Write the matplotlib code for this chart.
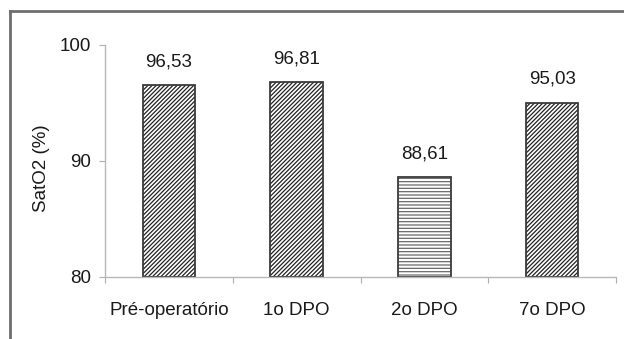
import matplotlib
matplotlib.use("Agg")
import matplotlib.pyplot as plt
from matplotlib.lines import Line2D

categories = ["Pré-operatório", "1o DPO", "2o DPO", "7o DPO"]
sat_o2 = [96.53, 96.81, 88.61, 95.03]
value_labels = ["96,53", "96,81", "88,61", "95,03"]
hatches = ["////////", "////////", "-----", "////////"]
y_ticks = [80, 90, 100]

fs = 13.5
plt.rcParams["font.family"] = ["Liberation Sans", "DejaVu Sans"]
plt.rcParams["hatch.linewidth"] = 0.9

fig = plt.figure(figsize=(6.24, 3.39), dpi=100)
fig.patch.set_facecolor("white")

# outer frame (left and top edges visible)
frame_kw = dict(color="#6e6e6e", linewidth=2.0, transform=fig.transFigure)
fig.add_artist(Line2D([10 / 624, 10 / 624], [1 - 11 / 339, 0], **frame_kw))
fig.add_artist(Line2D([10 / 624, 1], [1 - 11 / 339, 1 - 11 / 339], **frame_kw))

ax = fig.add_axes([105 / 624, 1 - 277 / 339, (616 - 105) / 624, (277 - 45) / 339])
x = range(len(categories))
for i, (v, h) in enumerate(zip(sat_o2, hatches)):
    hc = "#222222" if h.startswith("/") else "#6a6a6a"
    ax.bar(i, v - 80, bottom=80, width=0.41, color="white", edgecolor=hc,
           hatch=h, linewidth=0)
    ax.bar(i, v - 80, bottom=80, width=0.41, fill=False, edgecolor="#3a3a3a",
           linewidth=1.3)
    ax.text(i, v + 2.0, value_labels[i], ha="center", va="center",
            fontsize=fs, color="#1a1a1a")

ax.set_xlim(-0.5, len(categories) - 0.5)
ax.set_ylim(80, 100)
ax.set_yticks(y_ticks)
ax.set_yticklabels([str(t) for t in y_ticks], fontsize=fs, color="#1a1a1a")
ax.set_xticks([i + 0.5 for i in range(-1, len(categories))], minor=False)
ax.set_xticklabels([])
ax.set_xticks(list(x), minor=True)
ax.set_xticklabels(categories, minor=True, fontsize=fs, color="#1a1a1a")
ax.tick_params(axis="x", which="minor", length=0, pad=18)
ax.tick_params(axis="x", which="major", length=4, color="#b0b0b0", direction="out")
ax.tick_params(axis="y", length=4, color="#b0b0b0", direction="out", pad=6)

for s in ["top", "right"]:
    ax.spines[s].set_visible(False)
for s in ["left", "bottom"]:
    ax.spines[s].set_color("#b8b8b8")
    ax.spines[s].set_linewidth(1.0)

ax.set_ylabel("SatO2 (%)", fontsize=fs, color="#1a1a1a")
ax.yaxis.set_label_coords(-0.108, 0.47)

fig.savefig("out.png", dpi=100, facecolor="white")
